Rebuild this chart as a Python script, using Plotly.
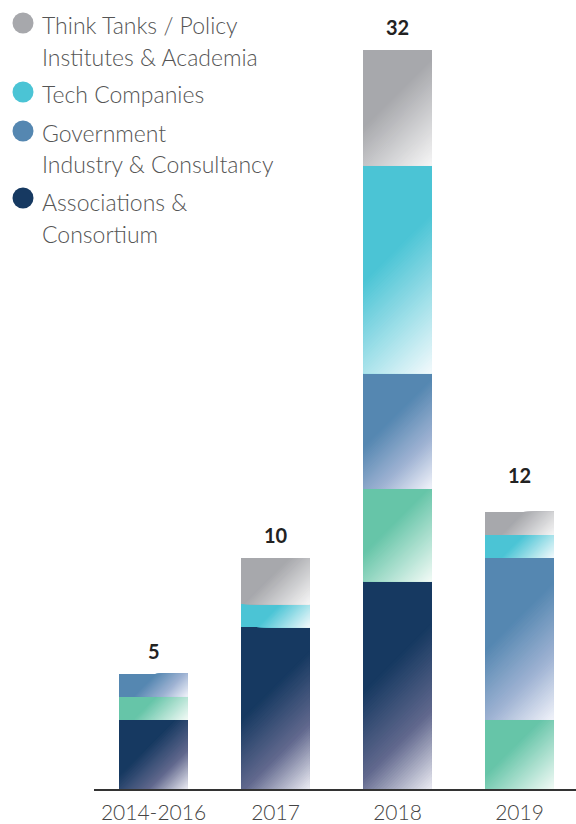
import numpy as np
import plotly.graph_objects as go

# ---- data -------------------------------------------------------------
categories = ["2014-2016", "2017", "2018", "2019"]
associations = [3, 7, 9, 0]
industry = [1, 0, 4, 3]
government = [1, 0, 5, 7]
tech = [0, 1, 9, 1]
think_tanks = [0, 2, 5, 1]
totals = [5, 10, 32, 12]

legend_lines = [
    ["Think Tanks / Policy", "Institutes & Academia"],
    ["Tech Companies"],
    ["Government", "Industry & Consultancy"],
    ["Associations &", "Consortium"],
]

# ---- styling ----------------------------------------------------------
NAVY, GREEN, BLUE, CYAN, GRAY = "#163961", "#66c5a8", "#5587b1", "#4bc4d5", "#a7a8ac"

# stacking order, bottom to top: (name, values, base colour, diagonal fade)
stack = [
    ("Associations & Consortium", associations, NAVY,
     [[0, NAVY], [0.40, NAVY], [0.72, "#62698e"], [1, "#ececf3"]]),
    ("Industry & Consultancy", industry, GREEN,
     [[0, GREEN], [0.40, GREEN], [1, "#f2faf6"]]),
    ("Government", government, BLUE,
     [[0, BLUE], [0.40, BLUE], [0.72, "#9fb3d3"], [1, "#f1f3fa"]]),
    ("Tech Companies", tech, CYAN,
     [[0, CYAN], [0.42, CYAN], [1, "#f3fafc"]]),
    ("Think Tanks / Policy Institutes & Academia", think_tanks, GRAY,
     [[0, GRAY], [0.42, GRAY], [1, "#f6f6f6"]]),
]
legend_colors = [GRAY, CYAN, BLUE, NAVY]
total_yshift = [9, 9, 9, 23]   # px lift of each total label

W, H = 576, 824
M_L, M_R, M_T, M_B = 94, 0, 0, 35
STEP_PX = 122.0          # pixels between category centres
FIRST_PX = 153.5         # pixel x of the first category centre
BAR_W = 0.56             # bar width in category units
Y_MAX = 34.16
N_BANDS = 90             # steps in the diagonal fade

x_range = [(M_L - FIRST_PX) / STEP_PX, (W - M_R - FIRST_PX) / STEP_PX]
plot_w = W - M_L - M_R
plot_h = H - M_T - M_B
sx = plot_w / (x_range[1] - x_range[0])   # px per x unit
sy = plot_h / Y_MAX                       # px per y unit

FONT = "Lato, 'Open Sans', sans-serif"


def hex_rgb(h):
    h = h.lstrip("#")
    return np.array([int(h[k:k + 2], 16) for k in (0, 2, 4)], dtype=float)


def scale_color(cscale, t):
    """Linear RGB interpolation along a [[pos, colour], ...] scale."""
    for (p0, c0), (p1, c1) in zip(cscale[:-1], cscale[1:]):
        if p0 <= t <= p1:
            f = 0 if p1 == p0 else (t - p0) / (p1 - p0)
            c = hex_rgb(c0) * (1 - f) + hex_rgb(c1) * f
            return "rgb(%d,%d,%d)" % tuple(np.round(c))
    return cscale[-1][1]


def clip_corner(w, h, thr):
    """Part of the w x h pixel box (v downwards) where u + v >= thr."""
    box = [(0, 0), (w, 0), (w, h), (0, h)]
    out = []
    for k in range(4):
        a, b = box[k], box[(k + 1) % 4]
        ia, ib = a[0] + a[1] >= thr, b[0] + b[1] >= thr
        if ia:
            out.append(a)
        if ia != ib:
            sa, sb = a[0] + a[1] - thr, b[0] + b[1] - thr
            f = sa / (sa - sb)
            out.append((a[0] + f * (b[0] - a[0]), a[1] + f * (b[1] - a[1])))
    return out


fig = go.Figure()
xs = list(range(len(categories)))

# solid stacked bars
for name, vals, color, _ in stack:
    fig.add_trace(go.Bar(
        x=xs, y=vals, name=name, marker=dict(color=color, line=dict(width=0)),
        width=BAR_W, showlegend=False, hoverinfo="skip",
    ))

# diagonal fade: nested corner polygons, each painted over the previous one
base = np.zeros(len(categories))
for name, vals, color, cscale in stack:
    solid_end = cscale[1][0]
    segs = []
    for i, v in enumerate(vals):
        if v > 0:
            segs.append((i - BAR_W / 2, base[i], base[i] + v))
    base += np.array(vals)
    for k in range(N_BANDS):
        t_lo = k / N_BANDS
        if t_lo < solid_end:
            continue
        t_mid = (k + 0.5) / N_BANDS
        px_, py_ = [], []
        for x0, y0, y1 in segs:
            wpx, hpx = BAR_W * sx, (y1 - y0) * sy
            poly = clip_corner(wpx, hpx, t_lo * (wpx + hpx))
            if len(poly) < 3:
                continue
            for u, vv in poly + [poly[0]]:
                px_.append(x0 + u / sx)
                py_.append(y1 - vv / sy)
            px_.append(None)
            py_.append(None)
        if not px_:
            continue
        fig.add_trace(go.Scatter(
            x=px_, y=py_, mode="none", fill="toself",
            fillcolor=scale_color(cscale, t_mid),
            showlegend=False, hoverinfo="skip",
        ))

# totals above the bars
for i, t in enumerate(totals):
    fig.add_annotation(
        x=i, y=t, xref="x", yref="y", text=f"<b>{t}</b>", showarrow=False,
        yanchor="bottom", yshift=total_yshift[i],
        font=dict(family=FONT, size=20, color="#222222"),
    )

# legend: dots and labels
dot_y = [23, 92, 131, 198]
line_y = [[24, 56], [92.5], [132, 163], [201, 233]]
for color, cy, lines, ly in zip(legend_colors, dot_y, legend_lines, line_y):
    fig.add_shape(
        type="circle", xref="paper", yref="paper",
        xsizemode="pixel", ysizemode="pixel",
        xanchor=(23 - M_L) / plot_w, yanchor=1 - cy / plot_h,
        x0=-10.5, x1=10.5, y0=-10.5, y1=10.5,
        fillcolor=color, line=dict(width=0),
    )
    for text, yy in zip(lines, ly):
        fig.add_annotation(
            x=(40 - M_L) / plot_w, y=1 - (yy + 1) / plot_h,
            xref="paper", yref="paper", xanchor="left", yanchor="middle",
            text=text, showarrow=False,
            font=dict(family=FONT, size=23, color="#555555", weight=300),
        )

fig.update_layout(
    width=W, height=H,
    margin=dict(l=M_L, r=M_R, t=M_T, b=M_B),
    paper_bgcolor="white", plot_bgcolor="white",
    barmode="stack", showlegend=False,
    xaxis=dict(
        range=x_range, tickmode="array", tickvals=xs, ticktext=categories,
        showgrid=False, zeroline=False, showline=True, linecolor="#333333",
        linewidth=2, ticks="", ticklabelstandoff=4, fixedrange=True,
        tickfont=dict(family=FONT, size=21, color="#444444", weight=300),
    ),
    yaxis=dict(range=[0, Y_MAX], visible=False, fixedrange=True),
)

fig.write_html("out.html")
